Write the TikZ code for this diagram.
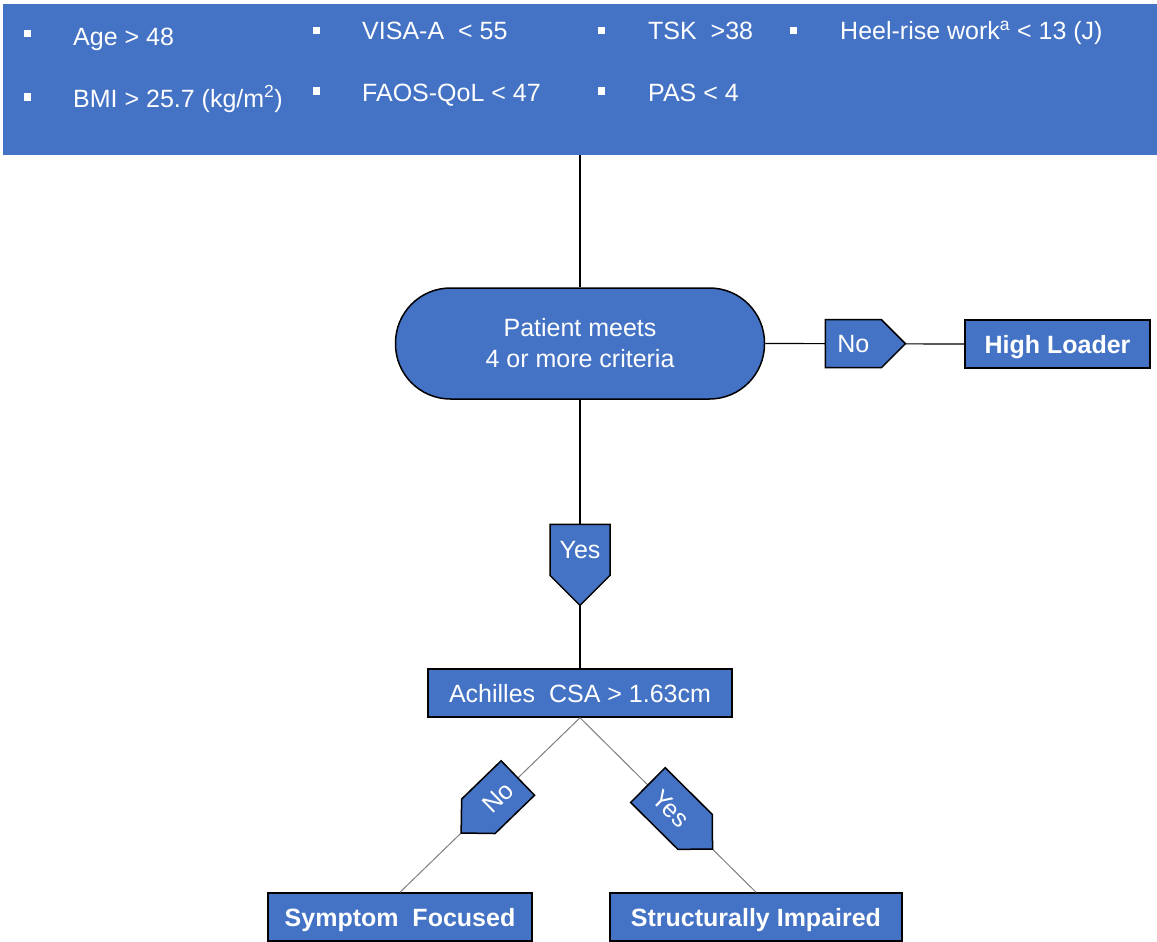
\documentclass[tikz,border=0pt]{standalone}
\usepackage{fontspec}
\setmainfont{Liberation Sans}
\usetikzlibrary{shapes.symbols}
\definecolor{obl}{HTML}{4472C4}
\definecolor{conngray}{HTML}{7F7F7F}
\begin{document}
\begin{tikzpicture}[x=1pt,y=-1pt,
  txt/.style={font=\fontsize{25}{31}\selectfont, text=white, inner sep=0pt},
  crit/.style={txt, anchor=west, text height=18pt, text depth=0pt},
  banner/.style={fill=obl, draw=none, inner sep=0pt, minimum width=1154pt, minimum height=151pt},
  bul/.style={fill=white, draw=none, inner sep=0pt, minimum size=7pt},
  boxb/.style={draw=black, line width=1.5pt, fill=obl, inner sep=0pt, txt, text height=18pt, text depth=0pt},
  boldbox/.style={boxb, font=\fontsize{25}{31}\selectfont\bfseries},
  term/.style={draw=black, line width=1.5pt, fill=obl, rounded corners=55pt, inner sep=0pt, txt, align=center,
    minimum width=369pt, minimum height=111pt},
  flag/.style={shape=signal, signal pointer angle=90, draw=black, line width=1.5pt, fill=obl, txt,
    text height=18pt, text depth=0pt},
  conn/.style={draw=black, line width=1.2pt},
  connlow/.style={draw=conngray, line width=1pt}
]
\useasboundingbox (0,0) rectangle (1157,942);
% criteria banner
\node[banner] (crit) at (580,79.5) {};
\node[bul] (b1) at (27,34) {};
\node[bul] (b2) at (27,97) {};
\node[bul] (b3) at (316,31) {};
\node[bul] (b4) at (316,91) {};
\node[bul] (b5) at (601,31) {};
\node[bul] (b6) at (601,91) {};
\node[bul] (b7) at (793,31) {};
\node[crit] (c1) at (73,37) {Age > 48};
\node[crit] (c2) at (73,98) {BMI > 25.7 (kg/m\textsuperscript{2})};
\node[crit] (c3) at (362,31) {VISA-A\ \ < 55};
\node[crit] (c4) at (362,92) {FAOS-QoL < 47};
\node[crit] (c5) at (648,31) {TSK\ \ >38};
\node[crit] (c6) at (648,92) {PAS < 4};
\node[crit] (c7) at (840,31) {Heel-rise work\textsuperscript{a} < 13 (J)};
% main nodes
\node[term] (term) at (580,343.5) {Patient meets\\4 or more criteria};
\node[boldbox, minimum width=185pt, minimum height=48pt] (high) at (1057.5,344) {High Loader};
\node[boxb, minimum width=304pt, minimum height=48pt] (ach) at (580,693) {Achilles\ \ CSA > 1.63cm};
\node[boldbox, minimum width=264pt, minimum height=48pt] (sym) at (400,917) {Symptom\ \ Focused};
\node[boldbox, minimum width=292pt, minimum height=48pt] (str) at (756,917) {Structurally Impaired};
% connectors
\draw[conn] (crit.south) -- (term.north);
\draw[conn] (term.east) -- node[flag, signal to=east, minimum width=80pt, minimum height=48pt, pos=0.443] (no1) {No} (high.west);
\draw[conn] (term.south) -- node[flag, signal to=south, inner xsep=8.5pt, minimum width=60pt, minimum height=80pt, pos=0.559] (yes1) {Yes} (ach.north);
\draw[connlow] (ach.south) -- node[flag, signal to=west, sloped, minimum width=79pt, minimum height=48pt, pos=0.455] (no2) {No} (sym.north);
\draw[connlow] (ach.south) -- node[flag, signal to=east, sloped, minimum width=91pt, minimum height=49pt, pos=0.52] (yes2) {Yes} (str.north);
\end{tikzpicture}
\end{document}
